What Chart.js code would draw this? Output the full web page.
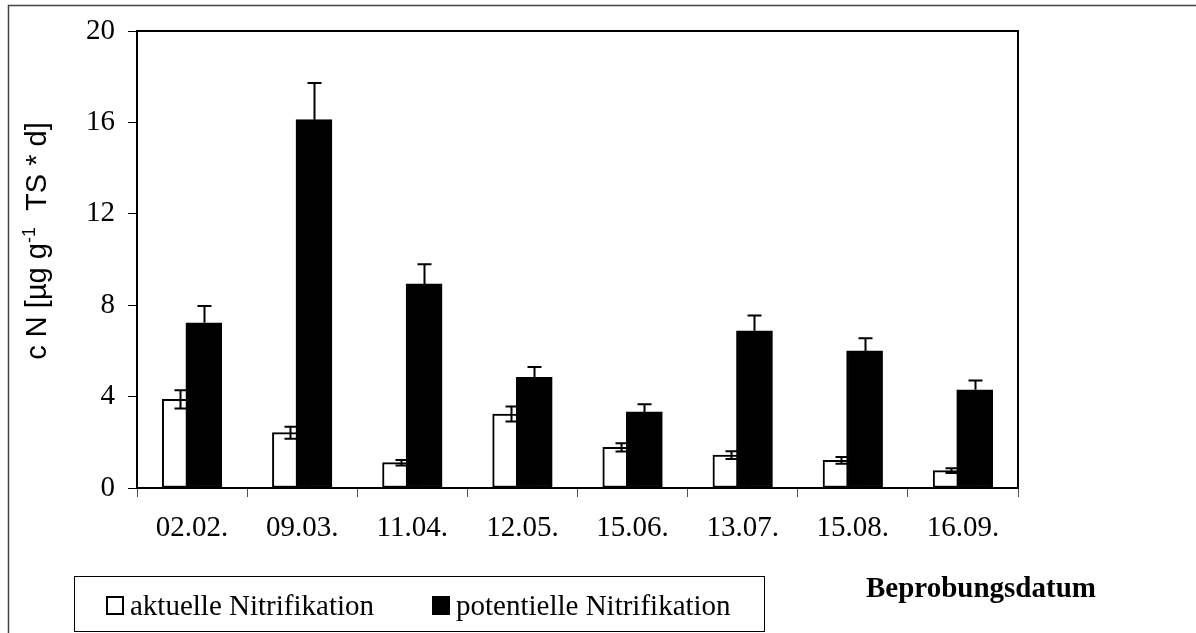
<!DOCTYPE html>
<html>
<head>
<meta charset="utf-8">
<script src="https://cdn.jsdelivr.net/npm/chart.js@4/dist/chart.umd.min.js"></script>
<style>
html,body{margin:0;padding:0;background:#fff;overflow:hidden}
#wrap{width:1196px;height:633px;position:relative}
canvas{display:block}
</style>
</head>
<body>
<div id="wrap"><canvas id="c" width="1196" height="633"></canvas></div>
<script>
// ---- data ----
const categories = ['02.02.', '09.03.', '11.04.', '12.05.', '15.06.', '13.07.', '15.08.', '16.09.'];
const seriesLabels = ['aktuelle Nitrifikation', 'potentielle Nitrifikation'];
const aktuell      = [3.88, 2.42, 1.11, 3.24, 1.78, 1.44, 1.21, 0.76];
const aktuellErr   = [0.40, 0.26, 0.12, 0.33, 0.18, 0.17, 0.15, 0.10];
const potentiell   = [7.23, 16.12, 8.93, 4.84, 3.33, 6.88, 6.00, 4.30];
const potentiellErr= [0.73, 1.60, 0.86, 0.46, 0.33, 0.67, 0.55, 0.41];
const yTicks = [0, 4, 8, 12, 16, 20];
const yTitleParts = ['c N [µg g', '-1', '  TS * d]'];
const xTitle = 'Beprobungsdatum';

const SERIF = '"Liberation Serif", "Times New Roman", serif';
const SANS = '"Liberation Sans", Arial, sans-serif';
const SHIFT = 0.107;

const decor = {
  id: 'decor',
  beforeDraw(chart) {
    const ctx = chart.ctx;
    ctx.save();
    ctx.fillStyle = '#fff';
    ctx.fillRect(0, 0, chart.width, chart.height);
    ctx.strokeStyle = '#444';
    ctx.lineWidth = 1.5;
    ctx.beginPath();
    ctx.moveTo(8.5, chart.height);
    ctx.lineTo(8.5, 5.5);
    ctx.lineTo(chart.width, 5.5);
    ctx.stroke();
    ctx.restore();
  },
  afterDatasetDraw(chart, args) {
    const ds = chart.data.datasets[args.index];
    const meta = args.meta;
    const ys = chart.scales.y;
    const ctx = chart.ctx;
    ctx.save();
    ctx.strokeStyle = '#000';
    ctx.lineWidth = 2;
    meta.data.forEach((el, i) => {
      const v = ds.data[i].y, e = ds.errors[i];
      const x = Math.round(el.x) + 0.5;
      const yt = ys.getPixelForValue(v + e);
      const yb = ys.getPixelForValue(v - e);
      const hw = ds.capHalf;
      ctx.beginPath();
      ctx.moveTo(x, ds.bothSides ? yb : ys.getPixelForValue(v));
      ctx.lineTo(x, yt);
      ctx.moveTo(x - hw, yt); ctx.lineTo(x + hw, yt);
      if (ds.bothSides) { ctx.moveTo(x - hw, yb); ctx.lineTo(x + hw, yb); }
      ctx.stroke();
    });
    ctx.restore();
  },
  afterDraw(chart) {
    const ctx = chart.ctx;
    const a = chart.chartArea;
    ctx.save();
    // plot frame top/right
    ctx.strokeStyle = '#000';
    ctx.lineWidth = 2;
    ctx.beginPath();
    ctx.moveTo(a.left, a.top);
    ctx.lineTo(a.right, a.top);
    ctx.lineTo(a.right, a.bottom);
    ctx.stroke();

    // y title (rotated, with superscript)
    const big = 'normal 29px ' + SANS, small = 'normal 18px ' + SANS;
    ctx.font = big;
    const w0 = ctx.measureText(yTitleParts[0]).width;
    const w2 = ctx.measureText(yTitleParts[2]).width;
    ctx.font = small;
    const w1 = ctx.measureText(yTitleParts[1]).width;
    const total = w0 + w1 + w2;
    ctx.translate(46, 241 + total / 2);
    ctx.rotate(-Math.PI / 2);
    ctx.fillStyle = '#000';
    ctx.textBaseline = 'alphabetic';
    ctx.textAlign = 'left';
    ctx.font = big;
    ctx.fillText(yTitleParts[0], 0, 0);
    ctx.font = small;
    ctx.fillText(yTitleParts[1], w0, -11);
    ctx.font = big;
    ctx.fillText(yTitleParts[2], w0 + w1, 0);
    ctx.setTransform(1, 0, 0, 1, 0, 0);

    // x title
    ctx.font = 'bold 29px ' + SERIF;
    ctx.fillText(xTitle, 866, 597);

    // legend
    ctx.lineWidth = 1;
    ctx.strokeStyle = '#000';
    ctx.strokeRect(74.5, 576.5, 690, 55);
    const entries = [{x: 106, tx: 130}, {x: 432, tx: 456}];
    ctx.font = 'normal 29px ' + SERIF;
    ctx.textBaseline = 'alphabetic';
    chart.data.datasets.forEach((ds, i) => {
      const en = entries[i];
      ctx.fillStyle = ds.backgroundColor;
      ctx.fillRect(en.x, 596, 18, 19);
      ctx.lineWidth = 2;
      ctx.strokeRect(en.x + 1, 597, 16, 17);
      ctx.fillStyle = '#000';
      ctx.fillText(ds.label, en.tx, 615);
    });
    ctx.restore();
  }
};

new Chart(document.getElementById('c'), {
  type: 'bar',
  data: {
    labels: categories,
    datasets: [
      {
        label: seriesLabels[0],
        data: aktuell.map((v, i) => ({x: i - SHIFT, y: v})),
        errors: aktuellErr, bothSides: true, capHalf: 6,
        backgroundColor: '#fff', borderColor: '#000', borderWidth: 2, borderSkipped: false,
        barThickness: 36, grouped: false, order: 2, xAxisID: 'xb', yAxisID: 'y'
      },
      {
        label: seriesLabels[1],
        data: potentiell.map((v, i) => ({x: i + SHIFT, y: v})),
        errors: potentiellErr, bothSides: false, capHalf: 7,
        backgroundColor: '#000', borderColor: '#000', borderWidth: 2, borderSkipped: false,
        barThickness: 36, grouped: false, order: 1, xAxisID: 'xb', yAxisID: 'y'
      }
    ]
  },
  options: {
    responsive: false,
    animation: false,
    devicePixelRatio: 1,
    layout: {padding: {top: 31, right: 178, left: 0, bottom: 0}},
    plugins: {legend: {display: false}, tooltip: {enabled: false}},
    scales: {
      x: {
        type: 'category', position: 'bottom', offset: true,
        grid: {display: true, offset: true, drawOnChartArea: false, drawTicks: true, tickLength: 9, tickColor: '#555', lineWidth: 1},
        border: {display: true, color: '#000', width: 2},
        ticks: {color: '#000', font: {family: SERIF, size: 29}, padding: 14, maxRotation: 0, autoSkip: false},
        afterFit(s) { s.height = 145; }
      },
      xb: {type: 'linear', position: 'bottom', display: false, min: -0.5, max: 7.5, offset: false},
      y: {
        position: 'left', min: 0, max: 20,
        afterBuildTicks(s) { s.ticks = yTicks.map(v => ({value: v})); },
        grid: {display: true, drawOnChartArea: false, drawTicks: true, tickLength: 9, tickColor: '#000', lineWidth: 1},
        border: {display: true, color: '#000', width: 2},
        ticks: {color: '#000', font: {family: SERIF, size: 29}, padding: 13},
        afterFit(s) { s.width = 137; }
      }
    }
  },
  plugins: [decor]
});
</script>
</body>
</html>
